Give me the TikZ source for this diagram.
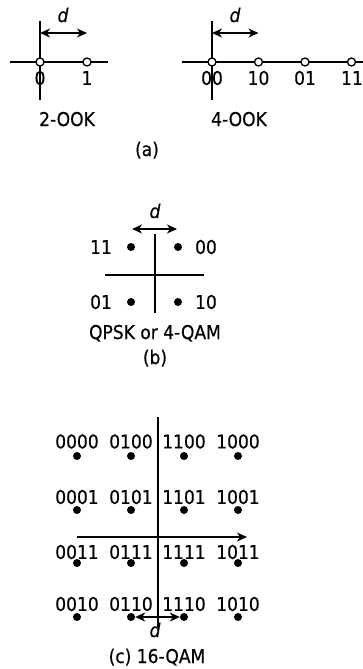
\documentclass[tikz,border=0pt]{standalone}
\usepackage{fontspec}
\setmainfont{DejaVu Sans Condensed}[FakeBold=0.5]
\usetikzlibrary{arrows.meta}
\begin{document}
\begin{tikzpicture}[x=1pt,y=-1pt,
  ax/.style={line width=1.4pt},
  tip/.tip={Stealth[length=10pt,width=9pt,inset=3pt]},
  dimline/.style={line width=1.4pt,tip-tip},
  axarrow/.style={line width=1.4pt,-tip},
  hollow/.style={circle,draw,fill=white,line width=1.3pt,inner sep=0pt,minimum size=8pt},
  dotn/.style={circle,fill,inner sep=0pt,minimum size=8pt},
  lab/.style={font=\fontsize{19}{22}\selectfont,inner sep=0pt},
  baselab/.style={lab,anchor=base},
  dlab/.style={lab,anchor=base,font=\fontsize{19}{22}\selectfont\itshape}]
\useasboundingbox (0,0) rectangle (363,669);

% ---------- (a) 2-OOK ----------
\coordinate (aL) at (10,62);
\coordinate (aR) at (108,62);
\coordinate (aT) at (40,21);
\coordinate (aB) at (40,100);
\coordinate (aD0) at (40,33);
\coordinate (aD1) at (87,33);
\draw[ax] (aL) -- (aR);
\draw[ax] (aT) -- (aB);
\node[hollow] (a0) at (40,62) {};
\node[hollow] (a1) at (87,62) {};
\draw[dimline] (aD0) -- (aD1);
\node[dlab] (ad) at (63,22) {d};
\node[lab] (a0l) at (40,78) {0};
\node[lab] (a1l) at (87,78) {1};
\node[baselab] (aname) at (67,126) {2-OOK};
\node[baselab] (acap) at (147,156) {(a)};

% ---------- (a) 4-OOK ----------
\coordinate (bL) at (182,62);
\coordinate (bR) at (363,62);
\coordinate (bT) at (212,21);
\coordinate (bB) at (212,100);
\coordinate (bD0) at (212,33);
\coordinate (bD1) at (258.5,33);
\draw[ax] (bL) -- (bR);
\draw[ax] (bT) -- (bB);
\node[hollow] (b00) at (212,62) {};
\node[hollow] (b10) at (258.5,62) {};
\node[hollow] (b01) at (305,62) {};
\node[hollow] (b11) at (351.5,62) {};
\draw[dimline] (bD0) -- (bD1);
\node[dlab] (bd) at (235,22) {d};
\node[lab] (b00l) at (212,78) {00};
\node[lab] (b10l) at (258.5,78) {10};
\node[lab] (b01l) at (305,78) {01};
\node[lab] (b11l) at (352,78) {11};
\node[baselab] (bname) at (239,126) {4-OOK};

% ---------- (b) QPSK ----------
\coordinate (qT) at (155,234);
\coordinate (qB) at (155,313);
\coordinate (qL) at (105,275);
\coordinate (qR) at (204,275);
\draw[ax] (qT) -- (qB);
\draw[ax] (qL) -- (qR);
\node[dotn] (q11) at (131,247) {};
\node[dotn] (q00) at (178,247) {};
\node[dotn] (q01) at (131,302) {};
\node[dotn] (q10) at (178,302) {};
\coordinate (qD0) at (132,229);
\coordinate (qD1) at (177,229);
\draw[dimline] (qD0) -- (qD1);
\node[dlab] (qd) at (155,218) {d};
\node[lab] (q11l) at (101,247) {11};
\node[lab] (q00l) at (206,247) {00};
\node[lab] (q01l) at (101,302) {01};
\node[lab] (q10l) at (206,302) {10};
\node[baselab] (qname) at (155,339) {QPSK or 4-QAM};
\node[baselab] (qcap) at (155,364) {(b)};

% ---------- (c) 16-QAM ----------
\coordinate (cT) at (158,417);
\coordinate (cB) at (158,627);
\coordinate (cL) at (77,537);
\coordinate (cR) at (247,537);
\draw[ax] (cT) -- (cB);
\draw[axarrow] (cL) -- (cR);
\foreach \lbl/\x/\y/\ly in {
  0000/77/456/441.5, 0100/131/456/441.5, 1100/184/456/441.5, 1000/238/456/441.5,
  0001/77/510/497, 0101/131/510/497, 1101/184/510/497, 1001/238/510/497,
  0011/77/563/552, 0111/131/563/552, 1111/184/563/552, 1011/238/563/552,
  0010/77/617/604, 0110/131/617/604, 1110/184/617/604, 1010/238/617/604}{
  \node[dotn] (c\lbl) at (\x,\y) {};
  \node[lab] (c\lbl l) at (\x,\ly) {\lbl};
}
\draw[dimline] (c0110) -- (c1110);
\node[dlab] (cd) at (155,637) {d};
\node[baselab] (ccap) at (157,663) {(c) 16-QAM};
\end{tikzpicture}
\end{document}
